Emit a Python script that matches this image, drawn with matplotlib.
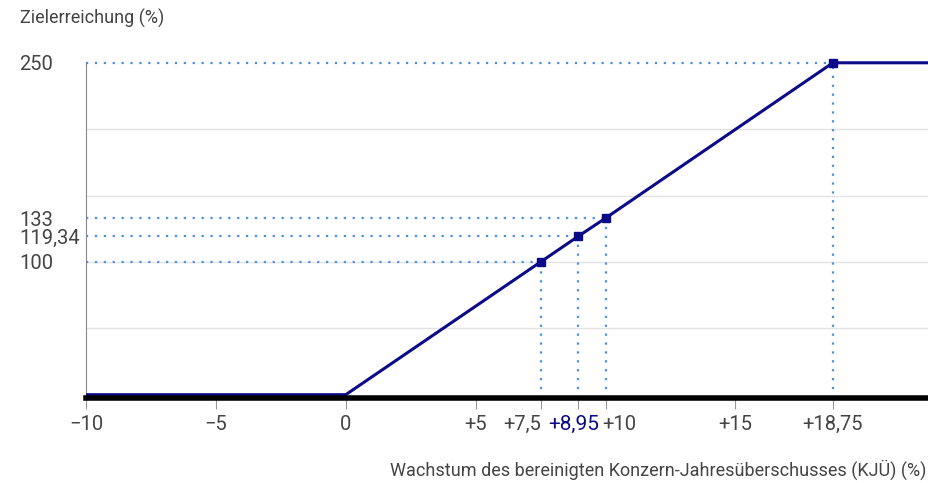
import matplotlib
matplotlib.use("Agg")
import matplotlib.pyplot as plt
from matplotlib.transforms import ScaledTranslation

plt.rcParams['font.family'] = ['Roboto', 'DejaVu Sans']

# payout curve: growth of adjusted net income (%) -> target achievement (%)
growth = [-10, 0, 7.5, 8.95, 10, 18.75, 22.5]
achievement = [0, 0, 100, 119.34, 133, 250, 250]

# marked points with dotted guide lines
mark_x = [7.5, 8.95, 10, 18.75]
mark_y = [100, 119.34, 133, 250]

x_ticks = [-10, -5, 0, 5, 7.5, 8.95, 10, 15, 18.75]
x_labels = ["\u221210", "\u22125", "0", "+5", "+7,5", "+8,95", "+10", "+15", "+18,75"]
y_ticks = [100, 119.34, 133, 250]
y_labels = ["100", "119,34", "133", "250"]
grid_y = [50, 100, 150, 200]

# nudge the crowded labels apart (pixels)
label_shift = {"+7,5": -18, "+8,95": -5, "+10": 14}

NAVY = "#0b0b8a"
DOT = "#4a90e2"
GREY = "#444444"

fig = plt.figure(figsize=(9.29, 4.83), dpi=100)
ax = fig.add_axes([0.0926, 0.176, 0.9074, 0.694])

x0, x1 = -10, 22.45
y0, y1 = -2.5, 250
ax.set_xlim(x0, x1)
ax.set_ylim(y0, y1)

for g in grid_y:
    ax.axhline(g, color="#e3e3e3", lw=1, zorder=0)

for mx, my in zip(mark_x, mark_y):
    ax.plot([x0, mx], [my, my], ls=(0, (1, 3)), color=DOT, lw=1.6, zorder=2,
            clip_on=False)
    ax.plot([mx, mx], [y0, my], ls=(0, (1, 3)), color=DOT, lw=1.6, zorder=2,
            clip_on=False)

ax.plot(growth, achievement, color=NAVY, lw=2.2, zorder=3,
        solid_capstyle="butt", clip_on=False)
ax.plot(mark_x, mark_y, ls="none", marker="s", ms=6, color=NAVY, zorder=4,
        clip_on=False)

for side in ["top", "right"]:
    ax.spines[side].set_visible(False)
ax.spines["left"].set_color("#888888")
ax.spines["left"].set_linewidth(0.8)
ax.spines["bottom"].set_color("black")
ax.spines["bottom"].set_linewidth(4)
ax.spines["bottom"].set_zorder(5)

ax.set_xticks(x_ticks)
ax.set_xticklabels(x_labels)
ax.tick_params(axis="x", length=8, width=0.8, color="#999999", labelsize=14.5,
               labelcolor=GREY, pad=4)
for lbl in ax.get_xticklabels():
    txt = lbl.get_text()
    if txt == "+8,95":
        lbl.set_color(NAVY)
        lbl.set_fontsize(15)
    if txt in label_shift:
        dx = label_shift[txt] / fig.dpi
        lbl.set_transform(lbl.get_transform() +
                          ScaledTranslation(dx, 0, fig.dpi_scale_trans))

ax.set_yticks(y_ticks)
ax.set_yticklabels(y_labels)
ax.tick_params(axis="y", length=0, labelsize=14.5, labelcolor=GREY, pad=48)
for lbl in ax.get_yticklabels():
    lbl.set_ha("left")

fig.text(0.021, 0.962, "Zielerreichung (%)", fontsize=13, color=GREY,
         ha="left", va="center")
fig.text(0.997, 0.027, "Wachstum des bereinigten Konzern-Jahresüberschusses (KJÜ) (%)",
         fontsize=13, color=GREY, ha="right", va="center")

fig.savefig("out.png", dpi=100)
